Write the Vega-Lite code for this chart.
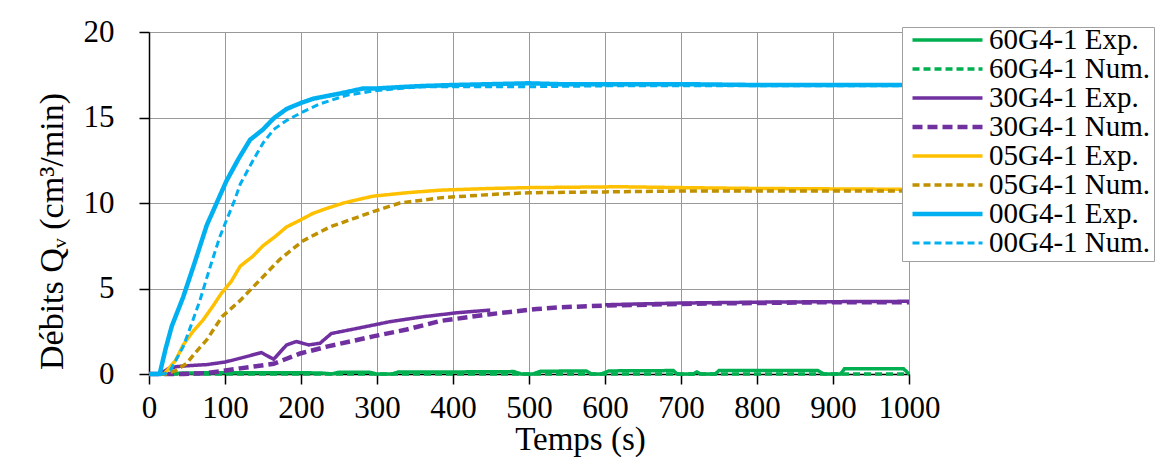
{
  "$schema": "https://vega.github.io/schema/vega-lite/v6.json",
  "width": 760,
  "height": 342,
  "autosize": "none",
  "padding": {"left": 149, "top": 32, "right": 256, "bottom": 83},
  "background": "white",
  "config": {
    "view": {"stroke": null},
    "font": "Liberation Serif",
    "axis": {"labelFont": "Liberation Serif", "titleFont": "Liberation Serif", "labelFontSize": 31, "titleFontSize": 33, "labelColor": "black", "titleColor": "black", "titleFontWeight": "normal", "domainColor": "black", "tickColor": "black", "gridColor": "#999999", "gridWidth": 1, "domainWidth": 1.5, "tickWidth": 1.5, "tickSize": 10, "labelOverlap": false, "labelFlush": false}
  },
  "data": {"values": [
    {"s":"60G4-1 Exp.","t":0,"q":0},{"s":"60G4-1 Exp.","t":20,"q":0},{"s":"60G4-1 Exp.","t":40,"q":0.05},{"s":"60G4-1 Exp.","t":100,"q":0.08},{"s":"60G4-1 Exp.","t":200,"q":0.08},{"s":"60G4-1 Exp.","t":230,"q":0.05},{"s":"60G4-1 Exp.","t":240,"q":0},{"s":"60G4-1 Exp.","t":250,"q":0.1},{"s":"60G4-1 Exp.","t":290,"q":0.1},{"s":"60G4-1 Exp.","t":300,"q":0},{"s":"60G4-1 Exp.","t":320,"q":0},{"s":"60G4-1 Exp.","t":328,"q":0.12},{"s":"60G4-1 Exp.","t":400,"q":0.12},{"s":"60G4-1 Exp.","t":480,"q":0.14},{"s":"60G4-1 Exp.","t":490,"q":0},{"s":"60G4-1 Exp.","t":505,"q":0},{"s":"60G4-1 Exp.","t":515,"q":0.16},{"s":"60G4-1 Exp.","t":575,"q":0.18},{"s":"60G4-1 Exp.","t":582,"q":0},{"s":"60G4-1 Exp.","t":595,"q":0},{"s":"60G4-1 Exp.","t":605,"q":0.18},{"s":"60G4-1 Exp.","t":690,"q":0.2},{"s":"60G4-1 Exp.","t":695,"q":0},{"s":"60G4-1 Exp.","t":716,"q":0},{"s":"60G4-1 Exp.","t":721,"q":0.12},{"s":"60G4-1 Exp.","t":726,"q":0},{"s":"60G4-1 Exp.","t":745,"q":0},{"s":"60G4-1 Exp.","t":750,"q":0.2},{"s":"60G4-1 Exp.","t":880,"q":0.2},{"s":"60G4-1 Exp.","t":888,"q":0},{"s":"60G4-1 Exp.","t":910,"q":0},{"s":"60G4-1 Exp.","t":915,"q":0.3},{"s":"60G4-1 Exp.","t":993,"q":0.3},{"s":"60G4-1 Exp.","t":1000,"q":0},
    {"s":"60G4-1 Num.","t":0,"q":0},{"s":"60G4-1 Num.","t":1000,"q":0},
    {"s":"30G4-1 Exp.","t":0,"q":0},{"s":"30G4-1 Exp.","t":14,"q":0},{"s":"30G4-1 Exp.","t":25,"q":0.3},{"s":"30G4-1 Exp.","t":36,"q":0.43},{"s":"30G4-1 Exp.","t":50,"q":0.48},{"s":"30G4-1 Exp.","t":76,"q":0.55},{"s":"30G4-1 Exp.","t":100,"q":0.7},{"s":"30G4-1 Exp.","t":120,"q":0.92},{"s":"30G4-1 Exp.","t":135,"q":1.1},{"s":"30G4-1 Exp.","t":148,"q":1.25},{"s":"30G4-1 Exp.","t":164,"q":0.86},{"s":"30G4-1 Exp.","t":181,"q":1.7},{"s":"30G4-1 Exp.","t":194,"q":1.9},{"s":"30G4-1 Exp.","t":210,"q":1.7},{"s":"30G4-1 Exp.","t":225,"q":1.8},{"s":"30G4-1 Exp.","t":240,"q":2.37},{"s":"30G4-1 Exp.","t":273,"q":2.66},{"s":"30G4-1 Exp.","t":317,"q":3.06},{"s":"30G4-1 Exp.","t":361,"q":3.35},{"s":"30G4-1 Exp.","t":405,"q":3.58},{"s":"30G4-1 Exp.","t":449,"q":3.74},{"s":"30G4-1 Exp.","t":455,"q":null},{"s":"30G4-1 Exp.","t":600,"q":4.05},{"s":"30G4-1 Exp.","t":700,"q":4.15},{"s":"30G4-1 Exp.","t":800,"q":4.2},{"s":"30G4-1 Exp.","t":900,"q":4.23},{"s":"30G4-1 Exp.","t":1000,"q":4.25},
    {"s":"30G4-1 Num.","t":0,"q":0},{"s":"30G4-1 Num.","t":45,"q":0},{"s":"30G4-1 Num.","t":76,"q":0.05},{"s":"30G4-1 Num.","t":120,"q":0.33},{"s":"30G4-1 Num.","t":164,"q":0.6},{"s":"30G4-1 Num.","t":199,"q":1.2},{"s":"30G4-1 Num.","t":234,"q":1.6},{"s":"30G4-1 Num.","t":295,"q":2.2},{"s":"30G4-1 Num.","t":339,"q":2.6},{"s":"30G4-1 Num.","t":383,"q":3.1},{"s":"30G4-1 Num.","t":449,"q":3.5},{"s":"30G4-1 Num.","t":510,"q":3.8},{"s":"30G4-1 Num.","t":541,"q":3.9},{"s":"30G4-1 Num.","t":600,"q":4.0},{"s":"30G4-1 Num.","t":700,"q":4.1},{"s":"30G4-1 Num.","t":800,"q":4.15},{"s":"30G4-1 Num.","t":900,"q":4.2},{"s":"30G4-1 Num.","t":1000,"q":4.2},
    {"s":"05G4-1 Exp.","t":0,"q":0},{"s":"05G4-1 Exp.","t":20,"q":0},{"s":"05G4-1 Exp.","t":35,"q":0.8},{"s":"05G4-1 Exp.","t":45,"q":1.7},{"s":"05G4-1 Exp.","t":58,"q":2.5},{"s":"05G4-1 Exp.","t":71,"q":3.15},{"s":"05G4-1 Exp.","t":83,"q":3.9},{"s":"05G4-1 Exp.","t":95,"q":4.7},{"s":"05G4-1 Exp.","t":108,"q":5.4},{"s":"05G4-1 Exp.","t":120,"q":6.3},{"s":"05G4-1 Exp.","t":137,"q":6.9},{"s":"05G4-1 Exp.","t":150,"q":7.5},{"s":"05G4-1 Exp.","t":165,"q":8.0},{"s":"05G4-1 Exp.","t":181,"q":8.6},{"s":"05G4-1 Exp.","t":199,"q":9.0},{"s":"05G4-1 Exp.","t":216,"q":9.4},{"s":"05G4-1 Exp.","t":235,"q":9.7},{"s":"05G4-1 Exp.","t":256,"q":10.0},{"s":"05G4-1 Exp.","t":275,"q":10.2},{"s":"05G4-1 Exp.","t":295,"q":10.4},{"s":"05G4-1 Exp.","t":339,"q":10.6},{"s":"05G4-1 Exp.","t":383,"q":10.75},{"s":"05G4-1 Exp.","t":449,"q":10.85},{"s":"05G4-1 Exp.","t":500,"q":10.9},{"s":"05G4-1 Exp.","t":620,"q":10.95},{"s":"05G4-1 Exp.","t":700,"q":10.9},{"s":"05G4-1 Exp.","t":800,"q":10.85},{"s":"05G4-1 Exp.","t":1000,"q":10.8},
    {"s":"05G4-1 Num.","t":0,"q":0},{"s":"05G4-1 Num.","t":23,"q":0},{"s":"05G4-1 Num.","t":35,"q":0.2},{"s":"05G4-1 Num.","t":49,"q":0.6},{"s":"05G4-1 Num.","t":62,"q":1.3},{"s":"05G4-1 Num.","t":76,"q":2.0},{"s":"05G4-1 Num.","t":96,"q":3.35},{"s":"05G4-1 Num.","t":120,"q":4.3},{"s":"05G4-1 Num.","t":146,"q":5.5},{"s":"05G4-1 Num.","t":172,"q":6.7},{"s":"05G4-1 Num.","t":203,"q":7.8},{"s":"05G4-1 Num.","t":238,"q":8.6},{"s":"05G4-1 Num.","t":270,"q":9.1},{"s":"05G4-1 Num.","t":295,"q":9.5},{"s":"05G4-1 Num.","t":330,"q":10.0},{"s":"05G4-1 Num.","t":383,"q":10.3},{"s":"05G4-1 Num.","t":450,"q":10.5},{"s":"05G4-1 Num.","t":500,"q":10.6},{"s":"05G4-1 Num.","t":600,"q":10.65},{"s":"05G4-1 Num.","t":700,"q":10.7},{"s":"05G4-1 Num.","t":1000,"q":10.7},
    {"s":"00G4-1 Exp.","t":0,"q":0},{"s":"00G4-1 Exp.","t":14,"q":0},{"s":"00G4-1 Exp.","t":22,"q":1.5},{"s":"00G4-1 Exp.","t":30,"q":2.8},{"s":"00G4-1 Exp.","t":45,"q":4.5},{"s":"00G4-1 Exp.","t":60,"q":6.5},{"s":"00G4-1 Exp.","t":76,"q":8.7},{"s":"00G4-1 Exp.","t":91,"q":10.2},{"s":"00G4-1 Exp.","t":102,"q":11.3},{"s":"00G4-1 Exp.","t":118,"q":12.6},{"s":"00G4-1 Exp.","t":133,"q":13.7},{"s":"00G4-1 Exp.","t":150,"q":14.3},{"s":"00G4-1 Exp.","t":164,"q":14.95},{"s":"00G4-1 Exp.","t":181,"q":15.5},{"s":"00G4-1 Exp.","t":200,"q":15.85},{"s":"00G4-1 Exp.","t":216,"q":16.1},{"s":"00G4-1 Exp.","t":251,"q":16.4},{"s":"00G4-1 Exp.","t":282,"q":16.7},{"s":"00G4-1 Exp.","t":300,"q":16.7},{"s":"00G4-1 Exp.","t":339,"q":16.8},{"s":"00G4-1 Exp.","t":365,"q":16.85},{"s":"00G4-1 Exp.","t":400,"q":16.9},{"s":"00G4-1 Exp.","t":450,"q":16.95},{"s":"00G4-1 Exp.","t":500,"q":17.0},{"s":"00G4-1 Exp.","t":540,"q":16.95},{"s":"00G4-1 Exp.","t":600,"q":16.95},{"s":"00G4-1 Exp.","t":700,"q":16.95},{"s":"00G4-1 Exp.","t":800,"q":16.9},{"s":"00G4-1 Exp.","t":1000,"q":16.9},
    {"s":"00G4-1 Num.","t":0,"q":0},{"s":"00G4-1 Num.","t":20,"q":0},{"s":"00G4-1 Num.","t":28,"q":0.2},{"s":"00G4-1 Num.","t":45,"q":1.6},{"s":"00G4-1 Num.","t":55,"q":2.8},{"s":"00G4-1 Num.","t":67,"q":4.3},{"s":"00G4-1 Num.","t":80,"q":6.2},{"s":"00G4-1 Num.","t":93,"q":8.0},{"s":"00G4-1 Num.","t":102,"q":9.0},{"s":"00G4-1 Num.","t":113,"q":10.2},{"s":"00G4-1 Num.","t":120,"q":11.1},{"s":"00G4-1 Num.","t":137,"q":12.5},{"s":"00G4-1 Num.","t":150,"q":13.5},{"s":"00G4-1 Num.","t":164,"q":14.3},{"s":"00G4-1 Num.","t":180,"q":14.8},{"s":"00G4-1 Num.","t":199,"q":15.25},{"s":"00G4-1 Num.","t":225,"q":15.8},{"s":"00G4-1 Num.","t":260,"q":16.3},{"s":"00G4-1 Num.","t":295,"q":16.55},{"s":"00G4-1 Num.","t":330,"q":16.7},{"s":"00G4-1 Num.","t":361,"q":16.8},{"s":"00G4-1 Num.","t":500,"q":16.8},{"s":"00G4-1 Num.","t":600,"q":16.85},{"s":"00G4-1 Num.","t":1000,"q":16.85}
  ]},
  "mark": {"type": "line", "invalid": "break-paths-show-domains", "strokeCap": "butt"},
  "encoding": {
    "x": {"field": "t", "type": "quantitative", "scale": {"domain": [0, 1000], "nice": false}, "axis": {"title": "Temps (s)", "format": "d", "values": [0,100,200,300,400,500,600,700,800,900,1000], "labelPadding": 9, "titlePadding": 0, "titleX": 431}},
    "y": {"field": "q", "type": "quantitative", "scale": {"domain": [0, 20], "nice": false}, "axis": {"title": "Débits Qᵥ (cm³/min)", "titleFontSize": 34, "titleY": 199, "values": [0,5,10,15,20], "labelPadding": 25, "titlePadding": 14}},
    "color": {"field": "s", "type": "nominal", "sort": null, "scale": {"domain": ["60G4-1 Exp.","60G4-1 Num.","30G4-1 Exp.","30G4-1 Num.","05G4-1 Exp.","05G4-1 Num.","00G4-1 Exp.","00G4-1 Num."], "range": ["#00B050","#00B050","#7030A0","#7030A0","#FFC000","#BF9000","#00B0F0","#00B0F0"]},
      "legend": {"title": null, "orient": "none", "legendX": 753, "legendY": -5, "fillColor": "white", "strokeColor": "#a0a0a0", "padding": 3, "symbolOffset": 5, "symbolType": "stroke", "symbolSize": 4900, "clipHeight": 20, "rowPadding": 0, "labelFont": "Liberation Serif", "labelFontSize": 29, "labelColor": "black", "labelLimit": 0, "labelOffset": 4}},
    "strokeDash": {"field": "s", "type": "nominal", "sort": null, "scale": {"domain": ["60G4-1 Exp.","60G4-1 Num.","30G4-1 Exp.","30G4-1 Num.","05G4-1 Exp.","05G4-1 Num.","00G4-1 Exp.","00G4-1 Num."], "range": [[1,0],[7,4],[1,0],[10,5],[1,0],[7,4],[1,0],[7,4]]}},
    "strokeWidth": {"field": "s", "type": "nominal", "sort": null, "scale": {"type": "ordinal", "domain": ["60G4-1 Exp.","60G4-1 Num.","30G4-1 Exp.","30G4-1 Num.","05G4-1 Exp.","05G4-1 Num.","00G4-1 Exp.","00G4-1 Num."], "range": [3.5,3.5,3.5,4.5,3.5,3.5,4.5,3]}}
  }
}
